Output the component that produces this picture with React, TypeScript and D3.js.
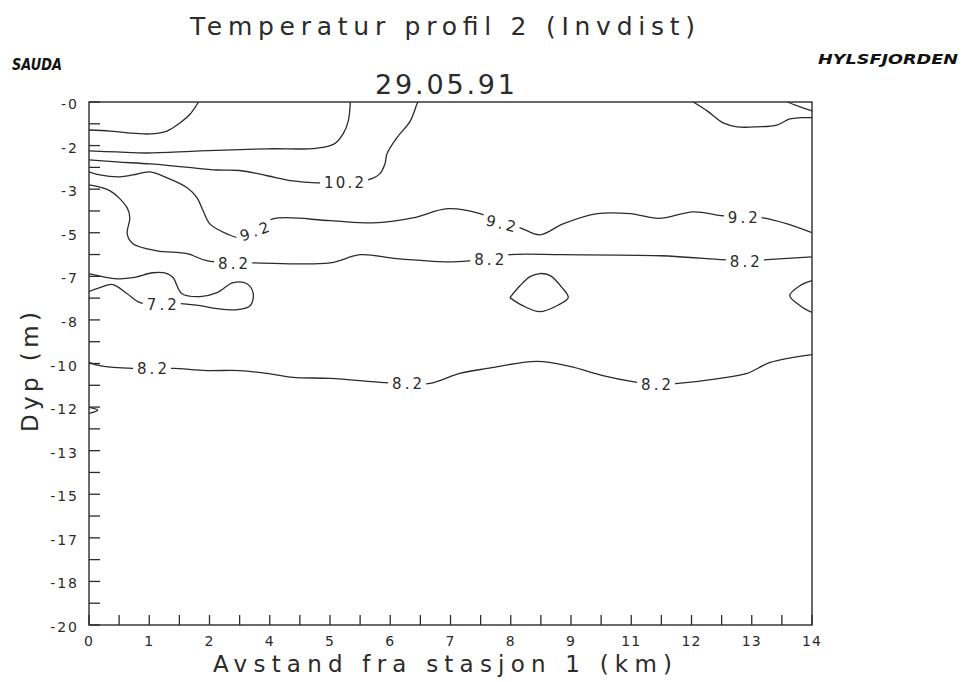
import React from "react";
import * as d3 from "d3";

// ---- Data (distance km, depth m) ----
const xTickLabels = ["0", "1", "2", "4", "5", "6", "7", "8", "9", "11", "12", "13", "14"];
const yTickLabels = ["-0", "-2", "-3", "-5", "-7", "-8", "-10", "-12", "-13", "-15", "-17", "-18", "-20"];

const contourTopLeft: [number, number][] = [
  [0, -1.07], [0.41, -1.11], [0.74, -1.18], [1.18, -1.22], [1.51, -1.11], [1.76, -0.8], [1.96, -0.46], [2.12, 0],
];
const contourUpper: [number, number][] = [
  [0, -1.87], [0.54, -1.91], [1.12, -1.95], [2.15, -1.87], [3.45, -1.79], [4.4, -1.77], [4.75, -1.6], [4.92, -1.22], [5.02, -0.73], [5.06, 0],
];
const contour102: [number, number][] = [
  [0, -2.21], [0.54, -2.29], [1.18, -2.37], [1.82, -2.48], [2.48, -2.6], [2.92, -2.62], [3.45, -2.82], [3.95, -3.02], [4.41, -3.09],
  [4.94, -3.07], [5.4, -2.98], [5.63, -2.75], [5.73, -2.37], [5.77, -1.98], [5.96, -1.37], [6.22, -0.73], [6.35, -0.08], [6.37, 0],
];
const contour92: [number, number][] = [
  [0, -2.67], [0.21, -2.79], [0.6, -2.86], [0.85, -2.79], [1.18, -2.67], [1.51, -2.9], [1.9, -3.28], [2.09, -3.66], [2.21, -4.16],
  [2.34, -4.66], [2.67, -5.04], [2.92, -5.19], [3.2, -4.92], [3.56, -4.47], [4.67, -4.54], [5.5, -4.62], [6.27, -4.43], [6.95, -4.08],
  [7.57, -4.27], [7.98, -4.62], [8.35, -4.81], [8.73, -5.08], [9.18, -4.66], [9.84, -4.27], [10.48, -4.27], [11.03, -4.45],
  [11.7, -4.2], [12.28, -4.35], [12.66, -4.39], [13.05, -4.43], [13.52, -4.66], [14, -5.0],
];
const contour82Upper: [number, number][] = [
  [0, -3.17], [0.41, -3.4], [0.74, -4.05], [0.79, -4.43], [0.74, -5.04], [0.85, -5.42], [1.32, -5.69], [1.9, -5.8], [2.28, -6.07],
  [2.79, -6.15], [3.18, -6.15], [4.67, -6.15], [5.25, -5.84], [5.96, -5.99], [6.93, -6.11], [7.38, -6.07], [7.75, -5.99],
  [8.15, -5.84], [9.18, -5.84], [11.06, -5.88], [12.28, -6.03], [12.7, -6.07], [13.13, -6.03], [14, -5.92],
];
const contour72: [number, number][] = [
  [0, -6.56], [0.54, -6.76], [0.85, -6.72], [1.24, -6.53], [1.51, -6.56], [1.63, -6.72], [1.8, -7.33], [2.15, -7.44], [2.48, -7.29],
  [2.79, -6.91], [3.06, -6.95], [3.18, -7.33], [3.12, -7.79], [2.87, -7.94], [2.48, -7.9], [2.15, -7.79], [1.76, -7.71],
  [1.41, -7.71], [0.99, -7.67], [0.74, -7.33], [0.46, -6.98], [0.21, -7.1], [0, -7.25],
];
const contourLens: [number, number][] = [
  [8.15, -7.48], [8.35, -7.02], [8.54, -6.68], [8.73, -6.56], [8.93, -6.64], [9.16, -7.1], [9.28, -7.48],
  [9.06, -7.79], [8.73, -8.02], [8.4, -7.79], [8.15, -7.48],
];
const contourRightEdge: [number, number][] = [
  [14, -6.83], [13.77, -7.02], [13.57, -7.4], [13.77, -7.79], [14, -8.05],
];
const contourTopRight: [number, number][] = [
  [11.7, 0], [11.97, -0.34], [12.28, -0.8], [12.55, -0.95], [12.94, -0.95], [13.32, -0.88], [13.57, -0.65], [13.77, -0.6], [14, -0.6],
];
const contourCorner: [number, number][] = [
  [13.52, 0], [13.77, -0.19], [14, -0.34],
];
const contour82Lower: [number, number][] = [
  [0, -9.96], [0.21, -10.08], [0.85, -10.19], [1.22, -10.19], [1.63, -10.19], [2.28, -10.27], [2.92, -10.27], [3.45, -10.38],
  [3.95, -10.53], [4.67, -10.57], [5.72, -10.73], [6.16, -10.76], [6.6, -10.76], [7.18, -10.38], [7.71, -10.19], [8.68, -9.92],
  [9.31, -10.11], [9.95, -10.46], [10.53, -10.69], [10.98, -10.8], [11.41, -10.76], [12.22, -10.57], [12.74, -10.38],
  [13.19, -9.96], [14, -9.66],
];
const contourTiny: [number, number][] = [
  [0, -11.68], [0.17, -11.79], [0, -11.91],
];

const contourLines = [
  contourTopLeft, contourUpper, contour102, contour92, contour82Upper, contour72,
  contourLens, contourRightEdge, contourTopRight, contourCorner, contour82Lower, contourTiny,
];

const contourLabels: { text: string; km: number; depth: number; angle: number }[] = [
  { text: "10.2", km: 4.94, depth: -3.07, angle: 0 },
  { text: "9.2", km: 3.2, depth: -4.92, angle: -20 },
  { text: "9.2", km: 7.98, depth: -4.62, angle: 14 },
  { text: "9.2", km: 12.66, depth: -4.39, angle: 0 },
  { text: "8.2", km: 2.79, depth: -6.15, angle: 0 },
  { text: "8.2", km: 7.75, depth: -5.99, angle: 0 },
  { text: "8.2", km: 12.7, depth: -6.07, angle: 0 },
  { text: "7.2", km: 1.41, depth: -7.71, angle: 0 },
  { text: "8.2", km: 1.22, depth: -10.19, angle: 0 },
  { text: "8.2", km: 6.16, depth: -10.76, angle: 0 },
  { text: "8.2", km: 10.98, depth: -10.8, angle: 0 },
];

const W = 966;
const H = 682;
const left = 89, right = 812, top = 102, bottom = 625;
const ink = "#2b2b2b";
const font = "'DejaVu Sans', sans-serif";

export default function App() {
  const x = d3.scaleLinear().domain([0, 14]).range([left, right]);
  const y = d3.scaleLinear().domain([-20, 0]).range([bottom, top]);
  const line = d3
    .line<[number, number]>()
    .x((d) => x(d[0]))
    .y((d) => y(d[1]))
    .curve(d3.curveCatmullRom.alpha(0.5));

  const nT = xTickLabels.length - 1;
  const xMajor = d3.range(nT + 1).map((i) => (14 * i) / nT);
  const xMinor = d3.range(nT).map((i) => (14 * (i + 0.5)) / nT);
  const yMajor = d3.range(nT + 1).map((i) => (-20 * i) / nT);
  const yMinor = d3.range(nT).map((i) => (-20 * (i + 0.5)) / nT);

  return (
    <svg
      width={W}
      height={H}
      viewBox={`0 0 ${W} ${H}`}
      style={{ position: "absolute", left: 0, top: 0, background: "#fff" }}
    >
      <defs>
        <clipPath id="plot">
          <rect x={left} y={top} width={right - left} height={bottom - top} />
        </clipPath>
      </defs>
      <rect x={0} y={0} width={W} height={H} fill="#fff" />

      {/* Titles */}
      <text x={190} y={35} fontSize={25} fontFamily={font} fill={ink} textLength={505} lengthAdjust="spacing">
        Temperatur profil 2 (Invdist)
      </text>
      <text x={375} y={94} fontSize={27} fontFamily={font} fill={ink} textLength={140} lengthAdjust="spacing">
        29.05.91
      </text>
      <text x={12} y={70} fontSize={15} fontWeight={900} fontStyle="italic" fontFamily={font} fill="#111" textLength={50} lengthAdjust="spacingAndGlyphs">
        SAUDA
      </text>
      <text x={818} y={64} fontSize={14} fontWeight={900} fontStyle="italic" fontFamily={font} fill="#111" textLength={140} lengthAdjust="spacingAndGlyphs">
        HYLSFJORDEN
      </text>

      {/* Contours */}
      <g clipPath="url(#plot)" fill="none" stroke={ink} strokeWidth={1.3}>
        {contourLines.map((c, i) => (
          <path key={i} d={line(c) || ""} />
        ))}
      </g>

      {/* Contour labels */}
      {contourLabels.map((l, i) => {
        const w = l.text.length === 4 ? 40 : 30;
        return (
          <g key={i} transform={`translate(${x(l.km)},${y(l.depth)}) rotate(${l.angle})`}>
            <rect x={-w / 2 - 4} y={-8} width={w + 8} height={16} fill="#fff" />
            <text
              x={-w / 2}
              y={6}
              fontSize={15}
              fontFamily={font}
              fill={ink}
              textLength={w}
              lengthAdjust="spacing"
            >
              {l.text}
            </text>
          </g>
        );
      })}

      {/* Frame */}
      <rect x={left} y={top} width={right - left} height={bottom - top} fill="none" stroke={ink} strokeWidth={1.4} />

      {/* Bottom axis ticks */}
      <g stroke={ink} strokeWidth={1.3}>
        {xMajor.concat(xMinor).map((v, i) => (
          <line key={i} x1={x(v)} x2={x(v)} y1={bottom} y2={bottom - 10} />
        ))}
        {yMajor.concat(yMinor).map((v, i) => (
          <line key={"y" + i} x1={left} x2={left + 11} y1={y(v)} y2={y(v)} />
        ))}
      </g>
      <g fontFamily={font} fontSize={14} fill={ink}>
        {xMajor.map((v, i) => (
          <text key={i} x={x(v)} y={646} textAnchor="middle" letterSpacing={1}>
            {xTickLabels[i]}
          </text>
        ))}
        {yMajor.map((v, i) => (
          <text key={"y" + i} x={79} y={y(v) + 7} textAnchor="end" letterSpacing={2}>
            {yTickLabels[i]}
          </text>
        ))}
      </g>

      {/* Axis titles */}
      <text x={213} y={672} fontSize={23} fontFamily={font} fill={ink} textLength={459} lengthAdjust="spacing">
        Avstand fra stasjon 1 (km)
      </text>
      <text
        transform="translate(38,432) rotate(-90)"
        x={0}
        y={0}
        fontSize={23}
        fontFamily={font}
        fill={ink}
        textLength={120}
        lengthAdjust="spacing"
      >
        Dyp (m)
      </text>
    </svg>
  );
}
